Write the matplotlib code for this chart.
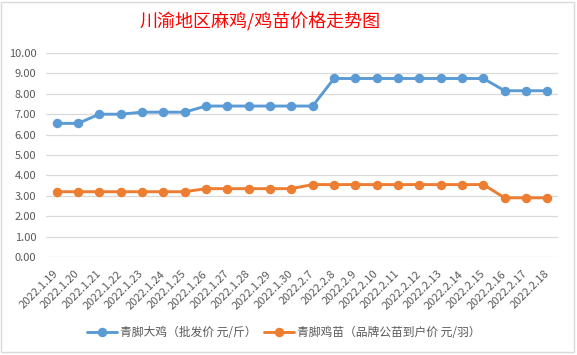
import matplotlib
matplotlib.use("Agg")
import matplotlib.pyplot as plt
from matplotlib.patches import Rectangle

plt.rcParams["font.family"] = ["Noto Sans CJK SC", "DejaVu Sans"]

# Chart data
dates = [
    "2022.1.19", "2022.1.20", "2022.1.21", "2022.1.22", "2022.1.23", "2022.1.24",
    "2022.1.25", "2022.1.26", "2022.1.27", "2022.1.28", "2022.1.29", "2022.1.30",
    "2022.2.7", "2022.2.8", "2022.2.9", "2022.2.10", "2022.2.11", "2022.2.12",
    "2022.2.13", "2022.2.14", "2022.2.15", "2022.2.16", "2022.2.17", "2022.2.18",
]
chicken_price = [
    6.55, 6.55, 7.0, 7.0, 7.1, 7.1, 7.1, 7.4, 7.4, 7.4, 7.4, 7.4,
    7.4, 8.75, 8.75, 8.75, 8.75, 8.75, 8.75, 8.75, 8.75, 8.15, 8.15, 8.15,
]
chick_price = [
    3.2, 3.2, 3.2, 3.2, 3.2, 3.2, 3.2, 3.35, 3.35, 3.35, 3.35, 3.35,
    3.55, 3.55, 3.55, 3.55, 3.55, 3.55, 3.55, 3.55, 3.55, 2.9, 2.9, 2.9,
]
chicken_label = "青脚大鸡（批发价 元/斤）"
chick_label = "青脚鸡苗（品牌公苗到户价 元/羽）"
title = "川渝地区麻鸡/鸡苗价格走势图"
y_ticks = [0, 1, 2, 3, 4, 5, 6, 7, 8, 9, 10]

W, H = 577, 355
fig = plt.figure(figsize=(W / 100, H / 100), dpi=100)
fig.patch.set_facecolor("white")

# chart frame
fig.add_artist(Rectangle((1 / W, 1 - 352 / H), 573 / W, 350 / H, transform=fig.transFigure,
                         fill=False, edgecolor="#D9D9D9", linewidth=1.0))

ax = fig.add_axes([46 / W, 1 - 257 / H, 512 / W, 204 / H])
x = list(range(len(dates)))
blue, orange = "#5B9BD5", "#ED7D31"
ax.plot(x, chicken_price, color=blue, linewidth=2.1, marker="o", markersize=5.8,
        label=chicken_label, solid_capstyle="round")
ax.plot(x, chick_price, color=orange, linewidth=2.1, marker="o", markersize=5.8,
        label=chick_label, solid_capstyle="round")

ax.set_xlim(-0.5, len(dates) - 0.5)
ax.set_ylim(0, 10)
ax.set_yticks(y_ticks)
ax.set_yticklabels([f"{v:.2f}" for v in y_ticks])
ax.set_xticks(x)
ax.set_xticklabels(dates, rotation=45, ha="right", va="center", rotation_mode="anchor")
ax.tick_params(axis="both", length=0, labelsize=8, labelcolor="#595959")
ax.tick_params(axis="x", pad=11)
ax.tick_params(axis="y", pad=7)
ax.grid(axis="y", color="#D9D9D9", linewidth=0.9)
ax.set_axisbelow(True)
for side in ["top", "right", "left", "bottom"]:
    ax.spines[side].set_visible(False)

fig.text(260 / W, 1 - 22 / H, title, color="#FF0000", fontsize=13,
         ha="center", va="center")

leg = fig.legend(loc="center", bbox_to_anchor=(284 / W, 1 - 333 / H), ncol=2, frameon=False,
                 fontsize=8.5, handlelength=2.5, columnspacing=0.6, handletextpad=0.3)
for t in leg.get_texts():
    t.set_color("#595959")

fig.savefig("out.png", dpi=100)
